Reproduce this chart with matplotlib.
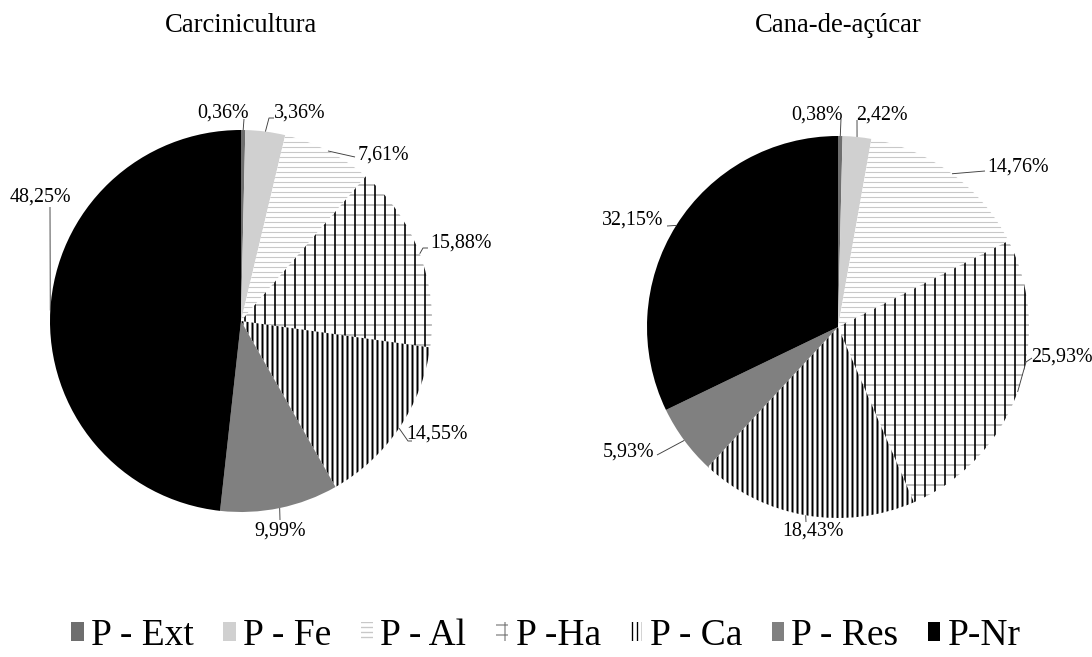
import matplotlib

matplotlib.use("Agg")
import matplotlib.pyplot as plt
import numpy as np
from matplotlib.patches import Patch, Wedge

plt.rcParams["font.family"] = ["Liberation Serif", "DejaVu Serif"]
plt.rcParams["hatch.linewidth"] = 1.6

fractions = ["P - Ext", "P - Fe", "P - Al", "P -Ha", "P - Ca", "P - Res", "P-Nr"]
carcinicultura = [0.36, 3.36, 7.61, 15.88, 14.55, 9.99, 48.25]
cana = [0.38, 2.42, 14.76, 25.93, 18.43, 5.93, 32.15]
titles = ["Carcinicultura", "Cana-de-açúcar"]

# canvas in pixels; dpi 60 keeps hatch spacing at 10 px per single stroke
W, H, DPI = 1092, 657, 60

# face colour, hatch, hatch colour, hatch width (pt)
styles = [
    ("#6e6e6e", None, "#6e6e6e", 1.0),
    ("#d0d0d0", None, "#d0d0d0", 1.0),
    ("white", "--", "#c8c8c8", 1.3),
    ("white", "-", "#8a8a8a", 1.3),
    ("white", "||", "black", 2.4),
    ("#808080", None, "#808080", 1.0),
    ("black", None, "black", 1.0),
]
# second layer drawn over P-Ha: black verticals on the gray horizontals
ha_overlay = ("|", "black", 2.0)

# pie centres (x, y from top) and radius, in pixels
centres = [(241, 321), (838, 327)]
radius = 191

# label centre and leader bend points (pixels, y from top), per slice
label_layout = [
    [
        ((223, 113), [(244, 119)]),
        ((300, 113), [(269, 118), (274, 118)]),
        ((383, 155), [(355, 157)]),
        ((461, 243), [(423, 248), (428, 248)]),
        ((437, 434), [(408, 441), (412, 441)]),
        ((280, 531), [(280, 520)]),
        ((40, 197), [(50, 207)]),
    ],
    [
        ((817, 115), [(841, 119)]),
        ((882, 115), [(857, 120)]),
        ((1018, 167), [(985, 171)]),
        ((1062, 357), [(1026, 362), (1032, 358)]),
        ((813, 531), [(806, 522)]),
        ((628, 452), [(657, 455)]),
        ((633, 220), [(667, 226)]),
    ],
]


def up(y):
    return H - y


def fmt(v):
    return f"{v:.2f}%".replace(".", ",")


def style_patch(p, face, hatch, hcolor, hwidth):
    p.set_facecolor(face)
    p.set_edgecolor(hcolor)
    p.set_linewidth(0)
    if hatch:
        p.set_hatch(hatch)
        if hasattr(p, "set_hatch_linewidth"):
            p.set_hatch_linewidth(hwidth)


fig = plt.figure(figsize=(W / DPI, H / DPI), dpi=DPI)
ax = fig.add_axes([0, 0, 1, 1])

for values, title, (cx, cy), layout in zip(
    [carcinicultura, cana], titles, centres, label_layout
):
    wedges, _ = ax.pie(
        values,
        center=(cx, up(cy)),
        radius=radius,
        startangle=90,
        counterclock=False,
        frame=True,
    )
    for w, st in zip(wedges, styles):
        style_patch(w, *st)

    ha_wedge = wedges[3]
    over = Wedge(ha_wedge.center, ha_wedge.r, ha_wedge.theta1, ha_wedge.theta2)
    style_patch(over, "none", *ha_overlay)
    ax.add_patch(over)

    for w, v, ((tx, ty), bends) in zip(wedges, values, layout):
        mid = np.deg2rad((w.theta1 + w.theta2) / 2)
        ex = w.center[0] + w.r * np.cos(mid)
        ey = w.center[1] + w.r * np.sin(mid)
        xs = [ex] + [b[0] for b in bends]
        ys = [ey] + [up(b[1]) for b in bends]
        ax.plot(xs, ys, color="#404040", lw=1.1, solid_capstyle="butt")
        ax.text(tx, up(ty), fmt(v), ha="center", va="center", fontsize=24)

    ax.text(cx, up(25), title, ha="center", va="center", fontsize=32)

# pie() with frame=True resets limits, restore the pixel canvas
ax.set_xlim(0, W)
ax.set_ylim(0, H)
ax.set_aspect("equal")
ax.axis("off")

handles = []
for name, (face, hatch, hcolor, hwidth) in zip(fractions, styles):
    h = Patch(facecolor=face, edgecolor=hcolor, linewidth=0, label=name)
    if hatch:
        h.set_hatch("+" if name == "P -Ha" else hatch)
        if hasattr(h, "set_hatch_linewidth"):
            h.set_hatch_linewidth(1.2)
    handles.append(h)

fig.legend(
    handles=handles,
    loc="center",
    bbox_to_anchor=(0.5, 1 - 636 / H),
    ncol=7,
    frameon=False,
    fontsize=45,
    handlelength=0.33,
    handleheight=0.4,
    handletextpad=0.2,
    columnspacing=0.78,
    borderpad=0,
)

fig.savefig("out.png", dpi=DPI)
